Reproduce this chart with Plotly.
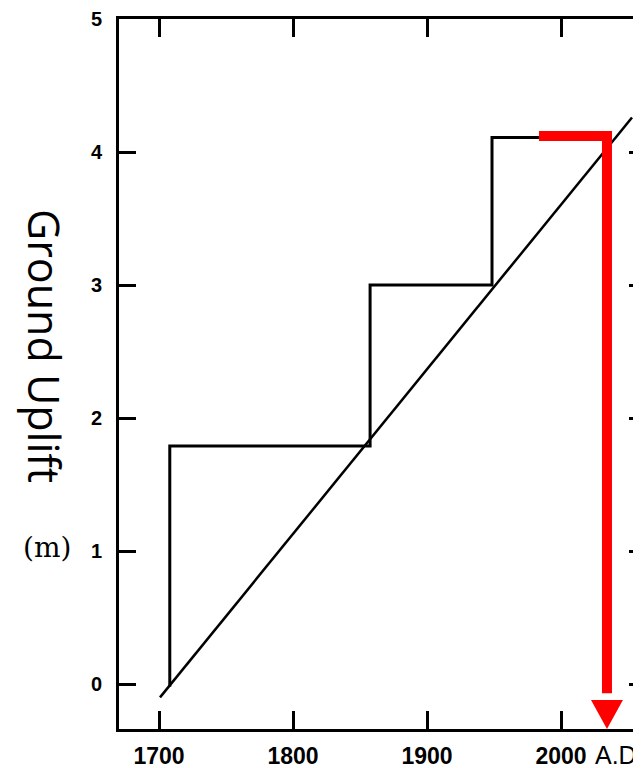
import plotly.graph_objects as go

# ---- data ----
step_years = [1708, 1708, 1857.5, 1857.5, 1948.5, 1948.5, 2030]
step_uplift = [-0.02, 1.79, 1.79, 3.0, 3.0, 4.11, 4.11]

trend_years = [1700.7, 2053]
trend_uplift = [-0.1, 4.26]

x_ticks = [1700, 1800, 1900, 2000]
x_tick_labels = ["1700", "1800", "1900", "2000"]
y_ticks = [0, 1, 2, 3, 4, 5]
y_tick_labels = ["0", "1", "2", "3", "4", "5"]

# red arrow annotation (data coordinates)
arrow_h_years = [1983.6, 2038.0]
arrow_level = 4.12
arrow_x = 2034.3
arrow_head_top = -0.12
arrow_head_half = 11.9

x_range = [1670.1, 2059.7]
y_range = [-0.338, 5.0]

# page body has an 8px margin: figure coordinates = page coordinates - 8
W, H = 633, 760
ML, MR, MT, MB = 111, 0, 11, 39
PW = W - ML - MR
PH = H - MT - MB


def px_x(page_x):
    return (page_x - 8 - ML) / PW


def px_y(page_y):
    return (H - MB - (page_y - 8)) / PH


tick_font = dict(family="Liberation Sans, Arial, sans-serif", weight="bold", color="black")

fig = go.Figure()
fig.add_trace(go.Scatter(x=step_years, y=step_uplift, mode="lines",
                         line=dict(color="black", width=3), showlegend=False,
                         hoverinfo="skip"))
fig.add_trace(go.Scatter(x=trend_years, y=trend_uplift, mode="lines",
                         line=dict(color="black", width=2.5), showlegend=False,
                         hoverinfo="skip"))
# invisible trace for right-side tick stubs
fig.add_trace(go.Scatter(x=[x_range[0]], y=[y_range[0]], yaxis="y2", mode="markers",
                         marker=dict(opacity=0), showlegend=False, hoverinfo="skip"))

red = "#ff0000"
fig.add_shape(type="line", xref="x", yref="y",
              x0=arrow_h_years[0], x1=arrow_h_years[1], y0=arrow_level, y1=arrow_level,
              line=dict(color=red, width=10))
fig.add_shape(type="line", xref="x", yref="y",
              x0=arrow_x, x1=arrow_x, y0=arrow_level + 0.037, y1=arrow_head_top + 0.05,
              line=dict(color=red, width=10))
fig.add_shape(type="path", xref="x", yref="y",
              path=f"M {arrow_x - arrow_head_half},{arrow_head_top} "
                   f"L {arrow_x + arrow_head_half},{arrow_head_top} "
                   f"L {arrow_x},{y_range[0]} Z",
              fillcolor=red, line=dict(color=red, width=0))

fig.update_layout(
    width=W, height=H,
    margin=dict(l=ML, r=MR, t=MT, b=MB),
    paper_bgcolor="white", plot_bgcolor="white",
    xaxis=dict(range=x_range, tickvals=x_ticks, ticktext=x_tick_labels,
               ticks="inside", ticklen=18, tickwidth=2.5, tickcolor="black",
               showline=True, linecolor="black", linewidth=3, mirror="ticks",
               showgrid=False, zeroline=False, ticklabelstandoff=4,
               tickfont=dict(size=23, **tick_font)),
    yaxis=dict(range=y_range, tickvals=y_ticks, ticktext=y_tick_labels,
               ticks="inside", ticklen=17, tickwidth=2.5, tickcolor="black",
               showline=True, linecolor="black", linewidth=3, mirror=False,
               showgrid=False, zeroline=False, ticklabelstandoff=10,
               tickfont=dict(size=20, **tick_font)),
    yaxis2=dict(range=y_range, overlaying="y", side="right", tickvals=y_ticks,
                ticks="inside", ticklen=12, tickwidth=2.5, tickcolor="black",
                showticklabels=False, showline=False, showgrid=False, zeroline=False),
    annotations=[
        dict(text="Ground Uplift", xref="paper", yref="paper", textangle=90,
             x=px_x(45), y=px_y(346), xanchor="center", yanchor="middle",
             showarrow=False, font=dict(family="Open Sans", size=43, color="black")),
        dict(text="(m)", xref="paper", yref="paper",
             x=px_x(47), y=px_y(547), xanchor="center", yanchor="middle",
             showarrow=False, font=dict(family="DejaVu Serif", size=28, color="black")),
        dict(text="A.D.", xref="paper", yref="paper",
             x=px_x(593), y=px_y(755), xanchor="left", yanchor="middle",
             showarrow=False, font=dict(family="Liberation Sans", size=25, color="black")),
    ],
)

fig.write_html("out.html")
